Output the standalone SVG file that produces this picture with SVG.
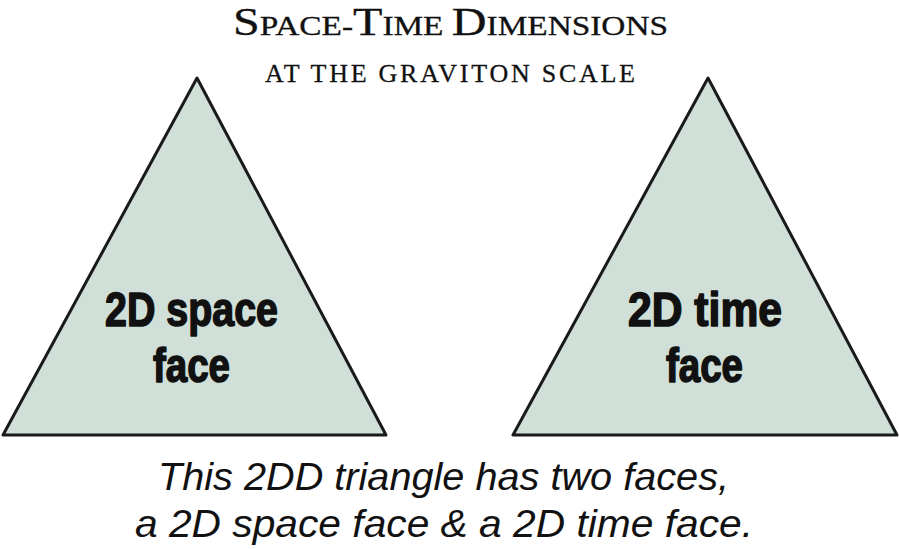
<svg xmlns="http://www.w3.org/2000/svg" width="899" height="549" viewBox="0 0 899 549">
<style>
.bg{fill:#ffffff}
.tri{fill:#d0e0d9;stroke:#1a1a1a;stroke-width:3;stroke-linejoin:round}
.title{font-family:"Liberation Serif","Times New Roman",serif;fill:#111;text-anchor:middle;stroke:#111;stroke-width:0.3}
.lbl{font-family:"Liberation Sans",Arial,sans-serif;font-weight:bold;font-size:48px;fill:#111;stroke:#111;stroke-width:1.6;stroke-linejoin:round;text-anchor:middle}
.cap{font-family:"Liberation Sans",Arial,sans-serif;font-style:italic;font-size:39px;fill:#111;text-anchor:middle}
</style>
<rect class="bg" x="0" y="0" width="899" height="549"/>
<g id="title">
<text class="title" x="450.5" y="35" font-size="27" textLength="435" lengthAdjust="spacingAndGlyphs"><tspan font-size="39">S</tspan>PACE-<tspan font-size="39">T</tspan>IME <tspan font-size="39">D</tspan>IMENSIONS</text>
<text class="title" x="450" y="82" font-size="26" textLength="370" lengthAdjust="spacing">AT THE GRAVITON SCALE</text>
</g>
<g id="space-face">
<polygon class="tri" points="197,78 3,435 386,435"/>
<text class="lbl" x="191.5" y="326" textLength="173" lengthAdjust="spacingAndGlyphs">2D space</text>
<text class="lbl" x="191.5" y="382" textLength="77" lengthAdjust="spacingAndGlyphs">face</text>
</g>
<g id="time-face">
<polygon class="tri" points="708,78 513,435 897,435"/>
<text class="lbl" x="705" y="326" textLength="154" lengthAdjust="spacingAndGlyphs">2D time</text>
<text class="lbl" x="704.5" y="382" textLength="77" lengthAdjust="spacingAndGlyphs">face</text>
</g>
<g id="caption">
<text class="cap" x="443.5" y="490" textLength="571" lengthAdjust="spacingAndGlyphs">This 2DD triangle has two faces,</text>
<text class="cap" x="444" y="537" textLength="618" lengthAdjust="spacingAndGlyphs">a 2D space face &amp; a 2D time face.</text>
</g>
<g id="connectors"></g>
</svg>
